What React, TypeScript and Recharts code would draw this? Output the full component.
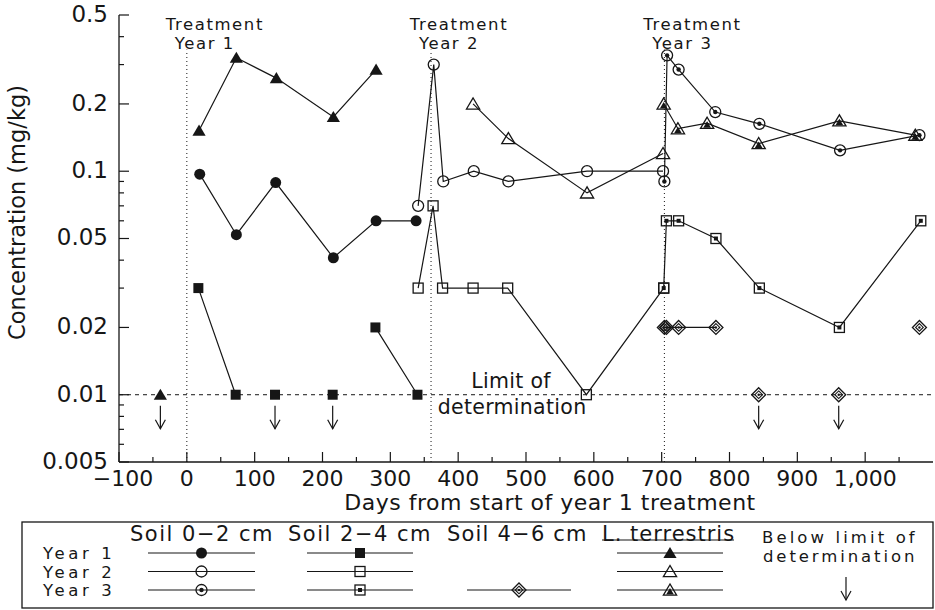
import React from "react";
import {
  ComposedChart,
  Line,
  Scatter,
  XAxis,
  YAxis,
  ReferenceLine,
  ReferenceDot,
} from "recharts";

const INK = "#161616";
const FONT = "'DejaVu Sans', sans-serif";

// days from start of year 1 treatment / concentration (mg/kg); null = break in the line
const y1Soil02Days = [19, 73, 131, 216, 279, 338];
const y1Soil02Conc = [0.097, 0.052, 0.089, 0.041, 0.06, 0.06];
const y1Soil24Days = [17, 72, 100, 130, 170, 215, 250, 278, 340];
const y1Soil24Conc = [0.03, 0.01, null, 0.01, null, 0.01, null, 0.02, 0.01];
const y1WormDays = [-39, -10, 18, 73, 132, 216, 279];
const y1WormConc = [0.01, null, 0.152, 0.322, 0.261, 0.175, 0.285];

const y2Soil02Days = [341, 364, 378, 423, 474, 590, 702];
const y2Soil02Conc = [0.07, 0.3, 0.09, 0.1, 0.09, 0.1, 0.1];
const y2Soil24Days = [341, 363, 377, 422, 473, 589, 703];
const y2Soil24Conc = [0.03, 0.07, 0.03, 0.03, 0.03, 0.01, 0.03];
const y2WormDays = [422, 474, 590, 702];
const y2WormConc = [0.2, 0.14, 0.08, 0.12];

const y3Soil02Days = [704, 708, 725, 779, 844, 963, 1080];
const y3Soil02Conc = [0.09, 0.33, 0.285, 0.184, 0.163, 0.124, 0.145];
const y3Soil24Days = [703, 707, 725, 780, 844, 962, 1082];
const y3Soil24Conc = [0.03, 0.06, 0.06, 0.05, 0.03, 0.02, 0.06];
const y3Soil46Days = [704, 707, 725, 780, 810, 843, 900, 961, 1020, 1080];
const y3Soil46Conc = [0.02, 0.02, 0.02, 0.02, null, 0.01, null, 0.01, null, 0.02];
const y3WormDays = [703, 724, 767, 843, 962, 1074];
const y3WormConc = [0.2, 0.155, 0.164, 0.133, 0.168, 0.145];

// samples below the limit of determination
const belowDays = [-39, 130, 215, 843, 961];
const belowConc = [0.01, 0.01, 0.01, 0.01, 0.01];

const treatmentDays = [0, 360, 704];
const limitConc = 0.01;
const limitLabelDay = 478;

const xMajor = [-100, 0, 100, 200, 300, 400, 500, 600, 700, 800, 900, 1000];
const xMinor = [-50, 50, 150, 250, 350, 450, 550, 650, 750, 850, 950, 1050];
const yMajor = [0.005, 0.01, 0.02, 0.05, 0.1, 0.2, 0.5];
const yMinor = [0.006, 0.007, 0.008, 0.009, 0.03, 0.04, 0.06, 0.07, 0.08, 0.09, 0.3, 0.4];

const rows = (xs: number[], ys: (number | null)[]) => xs.map((x, i) => ({ x, y: ys[i] }));

const series = [
  { name: "y1s02", data: rows(y1Soil02Days, y1Soil02Conc), kind: "circle" },
  { name: "y1s24", data: rows(y1Soil24Days, y1Soil24Conc), kind: "square" },
  { name: "y1w", data: rows(y1WormDays, y1WormConc), kind: "tri" },
  { name: "y2s02", data: rows(y2Soil02Days, y2Soil02Conc), kind: "circleOpen" },
  { name: "y2s24", data: rows(y2Soil24Days, y2Soil24Conc), kind: "squareOpen" },
  { name: "y2w", data: rows(y2WormDays, y2WormConc), kind: "triOpen" },
  { name: "y3s02", data: rows(y3Soil02Days, y3Soil02Conc), kind: "circleDot" },
  { name: "y3s24", data: rows(y3Soil24Days, y3Soil24Conc), kind: "squareDot" },
  { name: "y3s46", data: rows(y3Soil46Days, y3Soil46Conc), kind: "diamond" },
  { name: "y3w", data: rows(y3WormDays, y3WormConc), kind: "triDot" },
];

const tri = (cx: number, cy: number, h: number) =>
  `${cx},${cy - h} ${cx - h * 1.1},${cy + h * 0.85} ${cx + h * 1.1},${cy + h * 0.85}`;
const dia = (cx: number, cy: number, r: number) =>
  `${cx},${cy - r} ${cx + r},${cy} ${cx},${cy + r} ${cx - r},${cy}`;

function Marker({ kind, cx, cy }: { kind: string; cx: number; cy: number }) {
  const open = { stroke: INK, strokeWidth: 1.3, fill: "none" };
  switch (kind) {
    case "circle":
      return <circle cx={cx} cy={cy} r={5.5} fill={INK} />;
    case "circleOpen":
      return <circle cx={cx} cy={cy} r={5.5} {...open} />;
    case "circleDot":
      return (
        <g>
          <circle cx={cx} cy={cy} r={5.5} {...open} />
          <circle cx={cx} cy={cy} r={2.2} fill={INK} />
        </g>
      );
    case "square":
      return <rect x={cx - 5} y={cy - 5} width={10} height={10} fill={INK} />;
    case "squareOpen":
      return <rect x={cx - 5} y={cy - 5} width={10} height={10} {...open} />;
    case "squareDot":
      return (
        <g>
          <rect x={cx - 5} y={cy - 5} width={10} height={10} {...open} />
          <rect x={cx - 2} y={cy - 2} width={4} height={4} fill={INK} />
        </g>
      );
    case "tri":
      return <polygon points={tri(cx, cy, 6)} fill={INK} />;
    case "triOpen":
      return <polygon points={tri(cx, cy, 6)} {...open} />;
    case "triDot":
      return (
        <g>
          <polygon points={tri(cx, cy, 6)} {...open} />
          <polygon points={tri(cx, cy + 1.5, 3.5)} fill={INK} />
        </g>
      );
    case "diamond":
      return (
        <g>
          <polygon points={dia(cx, cy, 7)} {...open} />
          <polygon points={dia(cx, cy, 3.8)} {...open} strokeWidth={1.1} />
          <circle cx={cx} cy={cy} r={1.2} fill={INK} />
        </g>
      );
    default:
      return null;
  }
}

function Arrow({ cx, cy }: { cx: number; cy: number }) {
  return (
    <g stroke={INK} strokeWidth={1.2} fill="none">
      <line x1={cx} y1={cy + 11} x2={cx} y2={cy + 34} />
      <polyline points={`${cx - 5},${cy + 25} ${cx},${cy + 34} ${cx + 5},${cy + 25}`} />
    </g>
  );
}

function XTick(p: any) {
  const v = p.payload.value;
  const major = xMajor.includes(v);
  const label = v === 1000 ? "1,000" : v < 0 ? `\u2212${Math.abs(v)}` : String(v);
  return (
    <g>
      <line x1={p.x} x2={p.x} y1={p.y} y2={p.y - (major ? 10 : 5)} stroke={INK} strokeWidth={1.2} />
      {major && (
        <text x={p.x + (v < 0 ? 4 : 0)} y={p.y + 24} textAnchor="middle" fontSize={22} fontFamily={FONT} fill={INK}>
          {label}
        </text>
      )}
    </g>
  );
}

function YTick(p: any) {
  const v = p.payload.value;
  const major = yMajor.includes(v);
  return (
    <g>
      <line x1={p.x} x2={p.x + (major ? 10 : 5)} y1={p.y} y2={p.y} stroke={INK} strokeWidth={1.2} />
      {major && (
        <text x={p.x - 11} y={p.y} dy="0.3em" textAnchor="end" fontSize={23} fontFamily={FONT} fill={INK}>
          {String(v)}
        </text>
      )}
    </g>
  );
}

function TreatmentLabel(p: any) {
  const vb = p.viewBox;
  if (!vb) return null;
  return (
    <g fontFamily={FONT} fontSize={16.5} letterSpacing={1.6} fill={INK} textAnchor="middle">
      <text x={vb.x + 28} y={vb.y - 20}>Treatment</text>
      <text x={vb.x + 18} y={vb.y - 1}>{`Year  ${p.year}`}</text>
    </g>
  );
}

function LimitLabel(p: any) {
  const vb = p.viewBox;
  if (!vb) return null;
  return (
    <g fontFamily={FONT} fontSize={20.5} fill={INK} textAnchor="middle" letterSpacing={0.3}>
      <text x={vb.x} y={vb.y - 7}>Limit of</text>
      <text x={vb.x + 1} y={vb.y + 19}>determination</text>
    </g>
  );
}

function XTitle(p: any) {
  const vb = p.viewBox;
  return (
    <text x={vb.x + vb.width / 2 + 24} y={vb.y + 48} textAnchor="middle" fontSize={22} letterSpacing={0.5} fontFamily={FONT} fill={INK}>
      Days from start of year 1 treatment
    </text>
  );
}

function YTitle(p: any) {
  const vb = p.viewBox;
  const cx = vb.x + 25;
  const cy = vb.y + vb.height / 2 - 26;
  return (
    <text x={cx} y={cy} transform={`rotate(-90 ${cx} ${cy})`} textAnchor="middle" fontSize={22.5} fontFamily={FONT} fill={INK}>
      Concentration (mg/kg)
    </text>
  );
}

const legendCols = [
  { title: "Soil 0\u22122 cm", tx: 130, x1: 148, x2: 255, kinds: ["circle", "circleOpen", "circleDot"], sp: 1.5 },
  { title: "Soil 2\u22124 cm", tx: 288, x1: 307, x2: 413, kinds: ["square", "squareOpen", "squareDot"], sp: 1.5 },
  { title: "Soil 4\u22126 cm", tx: 447, x1: 467, x2: 571, kinds: ["", "", "diamond"], sp: 1.2 },
  { title: "L. terrestris", tx: 602, x1: 617, x2: 723, kinds: ["tri", "triOpen", "triDot"], sp: 1.0 },
];
const legendRowsY = [553, 571.5, 590];
const legendYears = ["Year  1", "Year  2", "Year  3"];

function LegendBox() {
  return (
    <svg width={935} height={610} style={{ position: "absolute", left: 0, top: 0, pointerEvents: "none" }}>
      <rect x={22} y={522} width={911} height={86} fill="none" stroke={INK} strokeWidth={1.3} />
      <g fontFamily={FONT} fill={INK}>
        {legendCols.map((c) => (
          <text key={c.title} x={c.tx} y={541} fontSize={21} letterSpacing={c.sp}>
            {c.title}
          </text>
        ))}
        {legendYears.map((t, i) => (
          <text key={t} x={43} y={559 + i * 18.5} fontSize={16.5} letterSpacing={3.6}>
            {t}
          </text>
        ))}
        <text x={762} y={543} fontSize={16.5} letterSpacing={3.1}>Below limit of</text>
        <text x={763} y={562} fontSize={16.5} letterSpacing={2.9}>determination</text>
      </g>
      <line x1={602} x2={734} y1={540} y2={540} stroke={INK} strokeWidth={1.2} />
      {legendCols.map((c) =>
        c.kinds.map((k, i) =>
          k ? (
            <g key={c.title + i}>
              <line x1={c.x1} x2={c.x2} y1={legendRowsY[i]} y2={legendRowsY[i]} stroke={INK} strokeWidth={1.2} />
              <Marker kind={k} cx={(c.x1 + c.x2) / 2} cy={legendRowsY[i]} />
            </g>
          ) : null
        )
      )}
      <Arrow cx={846} cy={566} />
    </svg>
  );
}

export default function App() {
  const below = rows(belowDays, belowConc);
  return (
    <div style={{ position: "absolute", left: 0, top: 0, width: 935, height: 610, background: "#fff" }}>
      <ComposedChart width={935} height={610} margin={{ top: 15, right: 2, bottom: 88, left: 0 }}>
        <XAxis
          type="number"
          dataKey="x"
          domain={[-100, 1100]}
          ticks={[...xMajor, ...xMinor]}
          interval={0}
          tickSize={0}
          tickMargin={0}
          tickLine={false}
          tick={(p: any) => <XTick {...p} />}
          axisLine={{ stroke: INK, strokeWidth: 1.3 }}
          height={60}
          allowDataOverflow
          label={{ content: (p: any) => <XTitle {...p} /> }}
        />
        <XAxis xAxisId="top" orientation="top" type="number" domain={[-100, 1100]} height={0} tick={false} tickLine={false} axisLine={{ stroke: INK, strokeWidth: 1.3 }} />
        <YAxis
          dataKey="y"
          scale="log"
          type="number"
          domain={[0.005, 0.5]}
          ticks={[...yMajor, ...yMinor]}
          interval={0}
          tickSize={0}
          tickMargin={0}
          tickLine={false}
          tick={(p: any) => <YTick {...p} />}
          axisLine={{ stroke: INK, strokeWidth: 1.3 }}
          width={119}
          allowDataOverflow
          label={{ content: (p: any) => <YTitle {...p} /> }}
        />
        <YAxis yAxisId="right" orientation="right" type="number" domain={[0, 1]} width={0} tick={false} tickLine={false} axisLine={{ stroke: INK, strokeWidth: 1.3 }} />

        <ReferenceLine y={limitConc} stroke={INK} strokeWidth={1} strokeDasharray="4 4" />
        {treatmentDays.map((d, i) => (
          <ReferenceLine
            key={d}
            segment={[{ x: d, y: 0.005 }, { x: d, y: 0.35 }]}
            stroke={INK}
            strokeWidth={1}
            strokeDasharray="1 3"
            label={<TreatmentLabel year={i + 1} />}
          />
        ))}
        <ReferenceDot x={limitLabelDay} y={limitConc} r={0} fill="none" stroke="none" label={<LimitLabel />} />

        {series.map((s) => (
          <Line
            key={s.name}
            data={s.data}
            dataKey="y"
            stroke={INK}
            strokeWidth={1.2}
            isAnimationActive={false}
            activeDot={false}
            dot={(p: any) =>
              p.cy == null || p.value == null ? (
                <g key={`${s.name}-${p.index}`} />
              ) : (
                <g key={`${s.name}-${p.index}`}>
                  <Marker kind={s.kind} cx={p.cx} cy={p.cy} />
                </g>
              )
            }
          />
        ))}
        <Scatter data={below} dataKey="y" isAnimationActive={false} shape={(p: any) => <Arrow cx={p.cx} cy={p.cy} />} />
      </ComposedChart>
      <LegendBox />
    </div>
  );
}
